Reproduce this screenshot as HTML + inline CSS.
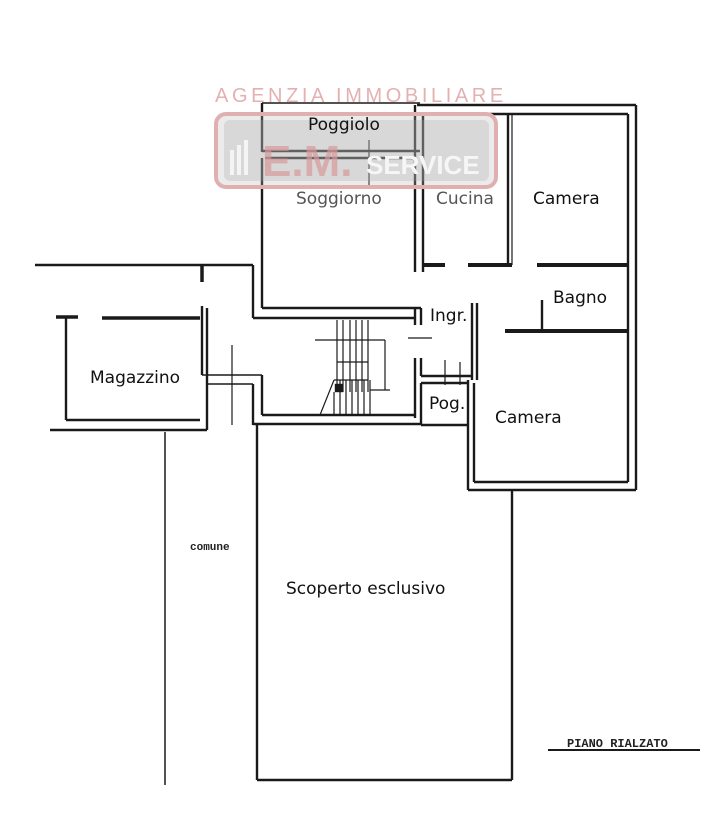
<!DOCTYPE html>
<html><head><meta charset="utf-8"><style>
html,body{margin:0;padding:0;background:#fff}
svg{display:block}
.l{font-family:"DejaVu Sans","Liberation Sans",sans-serif;font-size:17px;fill:#111}
</style></head><body>
<svg width="724" height="814" viewBox="0 0 724 814" xmlns="http://www.w3.org/2000/svg">
<g stroke="#1a1a1a" fill="none" stroke-width="2.4">
<line x1="417" y1="105" x2="636" y2="105"/><line x1="423" y1="114" x2="628" y2="114"/>
<line x1="636" y1="105" x2="636" y2="490"/><line x1="628" y1="114" x2="628" y2="482"/>
<line x1="468" y1="490" x2="636" y2="490"/><line x1="474" y1="482" x2="628" y2="482"/>
<line x1="262" y1="103" x2="420" y2="103" stroke-width="1.5"/>
<line x1="262" y1="103" x2="262" y2="152"/>
<line x1="262" y1="151" x2="420" y2="151"/><line x1="265" y1="158" x2="415" y2="158"/>
<line x1="262" y1="158" x2="262" y2="308"/>
<line x1="262" y1="308" x2="421" y2="308"/><line x1="253" y1="318" x2="415" y2="318"/>
<line x1="253" y1="265" x2="253" y2="318"/>
<line x1="415" y1="105" x2="415" y2="272"/><line x1="423" y1="114" x2="423" y2="272"/>
<line x1="508" y1="114" x2="508" y2="265"/><line x1="512" y1="114" x2="512" y2="265" stroke-width="1.2"/>
<g stroke-width="4"><line x1="423" y1="265" x2="445" y2="265"/><line x1="468" y1="265" x2="512" y2="265"/><line x1="537" y1="265" x2="628" y2="265"/>
<line x1="505" y1="331" x2="628" y2="331"/></g>
<line x1="542" y1="300" x2="542" y2="331"/>
<line x1="415" y1="308" x2="415" y2="325"/><line x1="421" y1="308" x2="421" y2="325"/>
<line x1="415" y1="358" x2="415" y2="418"/><line x1="421" y1="358" x2="421" y2="376"/>
<line x1="472" y1="303" x2="472" y2="380"/><line x1="477" y1="303" x2="477" y2="380"/>
<line x1="421" y1="376" x2="472" y2="376"/><line x1="421" y1="383" x2="468" y2="383"/>
<line x1="421" y1="383" x2="421" y2="425"/><line x1="421" y1="425" x2="468" y2="425"/>
<line x1="468" y1="380" x2="468" y2="490"/><line x1="474" y1="383" x2="474" y2="482"/>
<line x1="262" y1="375" x2="262" y2="415"/><line x1="253" y1="384" x2="253" y2="425"/>
<line x1="262" y1="415" x2="415" y2="415"/><line x1="253" y1="424" x2="421" y2="424"/>
<line x1="35" y1="265" x2="253" y2="265"/>
<line x1="202" y1="265" x2="202" y2="282" stroke-width="3.5"/>
<line x1="202" y1="306" x2="202" y2="375"/><line x1="207" y1="308" x2="207" y2="384"/>
<line x1="202" y1="375" x2="262" y2="375" stroke-width="1.5"/><line x1="207" y1="384" x2="253" y2="384" stroke-width="1.5"/>
<line x1="207" y1="384" x2="207" y2="430"/>
<line x1="66" y1="317" x2="66" y2="420"/>
<line x1="56" y1="317" x2="78" y2="317" stroke-width="3.5"/><line x1="102" y1="318" x2="200" y2="318" stroke-width="3.5"/>
<line x1="66" y1="420" x2="200" y2="420"/>
<line x1="50" y1="430" x2="207" y2="430"/>
<line x1="257" y1="424" x2="257" y2="780"/><line x1="257" y1="780" x2="512" y2="780"/><line x1="512" y1="490" x2="512" y2="780"/>
<line x1="165" y1="432" x2="165" y2="785" stroke-width="1.5"/>
<g stroke-width="1.2">
<line x1="337" y1="320" x2="337" y2="392"/><line x1="343" y1="320" x2="343" y2="392"/><line x1="350" y1="320" x2="350" y2="392"/>
<line x1="356" y1="320" x2="356" y2="392"/><line x1="362" y1="320" x2="362" y2="392"/><line x1="368" y1="320" x2="368" y2="392"/>
<line x1="334" y1="392" x2="334" y2="415"/><line x1="340" y1="380" x2="340" y2="415"/><line x1="346" y1="380" x2="346" y2="415"/>
<line x1="352" y1="380" x2="352" y2="415"/><line x1="358" y1="380" x2="358" y2="415"/><line x1="364" y1="380" x2="364" y2="415"/><line x1="370" y1="380" x2="370" y2="415"/>
<line x1="337" y1="362" x2="368" y2="362"/><line x1="334" y1="380" x2="368" y2="380"/>
<line x1="315" y1="340" x2="385" y2="340"/><line x1="385" y1="340" x2="385" y2="390"/><line x1="370" y1="390" x2="390" y2="390"/>
<line x1="320" y1="415" x2="334" y2="380"/>
<line x1="408" y1="338" x2="432" y2="338"/><line x1="232" y1="345" x2="232" y2="425"/>
<line x1="445" y1="360" x2="445" y2="385"/><line x1="460" y1="362" x2="460" y2="385"/>
<line x1="369" y1="140" x2="369" y2="185"/>
</g>
<rect x="336" y="385" width="6" height="6" fill="#1a1a1a"/>
<line x1="548" y1="750" x2="700" y2="750" stroke-width="2"/>
</g>
<text x="215" y="102" font-family="Liberation Sans,sans-serif" font-size="20" fill="#e3b1b1" letter-spacing="3.6">AGENZIA  IMMOBILIARE</text>
<rect x="216" y="114" width="280" height="73" rx="10" fill="#b8b8b8" fill-opacity="0.28" stroke="#e0b0b0" stroke-width="4"/>
<rect x="224" y="120" width="265" height="61" rx="6" fill="#a9a9a9" fill-opacity="0.28"/>
<g fill="#f4f4f4"><rect x="230" y="150" width="4" height="25"/><rect x="237" y="145" width="4" height="30"/><rect x="244" y="140" width="4" height="35"/></g>
<text x="262" y="176" font-family="Liberation Sans,sans-serif" font-size="44" font-weight="bold" fill="#d89a9a" fill-opacity="0.7">E.M.</text>
<text x="366" y="174" font-family="Liberation Sans,sans-serif" font-size="26" font-weight="bold" fill="#f6f6f6">SERVICE</text>
<text class="l" x="308" y="130">Poggiolo</text>
<text class="l" x="296" y="204" style="fill:#555">Soggiorno</text>
<text class="l" x="436" y="204" style="fill:#555">Cucina</text>
<text class="l" x="533" y="204">Camera</text>
<text class="l" x="553" y="303">Bagno</text>
<text class="l" x="430" y="321">Ingr.</text>
<text class="l" x="429" y="409">Pog.</text>
<text class="l" x="495" y="423">Camera</text>
<text class="l" x="90" y="383">Magazzino</text>
<text class="l" x="286" y="594">Scoperto esclusivo</text>
<text x="190" y="550" font-family="Liberation Mono,monospace" font-size="11" font-weight="bold" fill="#222">comune</text>
<text x="567" y="747" font-family="Liberation Mono,monospace" font-size="12" font-weight="bold" fill="#222">PIANO RIALZATO</text>
</svg>
</body></html>
